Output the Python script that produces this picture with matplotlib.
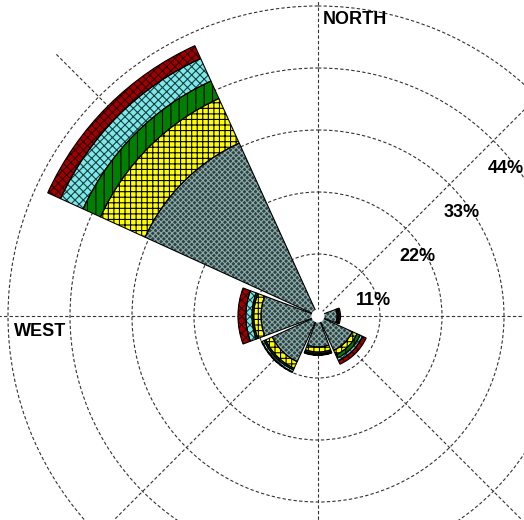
import numpy as np
import matplotlib
matplotlib.use("Agg")
import matplotlib.pyplot as plt

plt.rcParams['font.family'] = ['Liberation Sans', 'DejaVu Sans']
plt.rcParams['hatch.linewidth'] = 0.8

# wind directions (degrees, clockwise from north)
directions = ['N', 'NE', 'E', 'SE', 'S', 'SW', 'W', 'NW']
angles_deg = [0, 45, 90, 135, 180, 225, 270, 315]

# frequency (%) of each speed class per direction
class1 = [0.0, 0.0, 3.4, 6.7, 5.5, 8.9, 10.1, 33.7]
class2 = [0.0, 0.0, 0.1, 0.9, 0.9, 1.3, 1.3, 8.7]
class3 = [0.0, 0.0, 0.1, 0.6, 0.3, 0.3, 0.3, 3.4]
class4 = [0.0, 0.0, 0.1, 0.5, 0.2, 0.4, 1.1, 4.4]
class5 = [0.0, 0.0, 0.3, 0.7, 0.1, 0.1, 1.4, 2.5]

rings = [11, 22, 33, 44, 55]
ring_labels = ['11%', '22%', '33%', '44%']

# (face colour, hatch, hatch colour) per speed class
styles = [
    ('#2a4444', 'xxxxxx', '#8fa8a8'),
    ('#ffff00', '+++', 'black'),
    ('#008000', '||', 'black'),
    ('#7fe8e8', 'xxxx', '#1a4040'),
    ('#a00000', 'xxxx', '#300000'),
]

fig = plt.figure(figsize=(5.24, 5.20), dpi=100)
# centre of the rose at pixel (318, 316); 66% -> 372 px
R = 372
ax = fig.add_axes([(318 - R) / 524, (204 - R) / 520, 2 * R / 524, 2 * R / 520],
                  projection='polar')
ax.set_theta_zero_location('N')
ax.set_theta_direction(-1)
ax.set_ylim(0, 66)
ax.spines['polar'].set_visible(False)
ax.set_thetagrids(angles_deg, [''] * len(angles_deg))
ax.set_rgrids(rings, [''] * len(rings))
ax.grid(True, color='#333333', linewidth=0.8, linestyle=(0, (3, 2)))
ax.set_axisbelow(True)

theta = np.radians(angles_deg)
width = np.radians(41)
bottom = np.zeros(len(directions))
for vals, (fc, hatch, hc) in zip([class1, class2, class3, class4, class5], styles):
    vals = np.array(vals)
    ax.bar(theta, vals, width=width, bottom=bottom, color=fc, hatch=hatch,
           edgecolor=hc, linewidth=0, zorder=3)
    ax.bar(theta, vals, width=width, bottom=bottom, fill=False,
           edgecolor='black', linewidth=0.8, zorder=4)
    bottom = bottom + vals

# calm circle at the centre
ax.scatter([0], [0], s=90, c='white', edgecolors='none', zorder=6)

for r, lab in zip(rings, ring_labels):
    ax.annotate(lab, xy=(np.radians(45), r), xytext=(12, -28),
                textcoords='offset pixels', ha='center', va='center',
                fontsize=13, fontweight='bold')

ax.annotate('NORTH', xy=(0, 55), xytext=(5, -14), textcoords='offset pixels',
            ha='left', va='center', fontsize=13, fontweight='bold')
ax.annotate('WEST', xy=(np.radians(270), 55), xytext=(6, -15),
            textcoords='offset pixels', ha='left', va='center',
            fontsize=13, fontweight='bold')

fig.savefig('out.png', dpi=100)
